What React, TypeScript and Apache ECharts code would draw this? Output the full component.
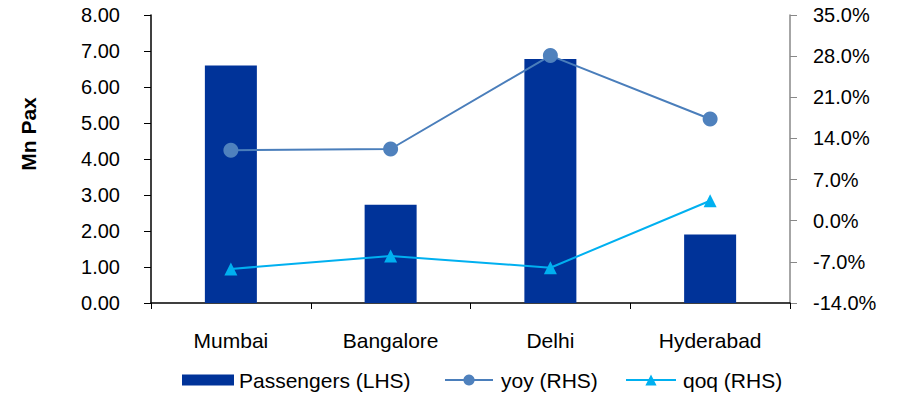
import React, { useEffect, useRef } from "react";
import * as echarts from "echarts";

const categories = ["Mumbai", "Bangalore", "Delhi", "Hyderabad"];
const passengers = [6.6, 2.73, 6.78, 1.9];
const yoy = [12.0, 12.2, 28.1, 17.3];
const qoq = [-8.2, -6.0, -8.0, 3.4];

const FONT = "'Liberation Sans', Arial, sans-serif";

export default function App() {
  const ref = useRef<HTMLDivElement>(null);
  useEffect(() => {
    if (!ref.current) return;
    const chart = echarts.init(ref.current, undefined, { renderer: "svg" });
    const legendText = { fontFamily: FONT, fontSize: 21, color: "#000", lineHeight: 22 };
    chart.setOption({
      animation: false,
      textStyle: { fontFamily: FONT },
      grid: { left: 151, right: 109, top: 15, bottom: 91, containLabel: false },
      xAxis: {
        type: "category",
        data: categories,
        axisLine: { lineStyle: { color: "#000", width: 1.5 } },
        axisTick: { show: true, length: 6, lineStyle: { color: "#000" } },
        axisLabel: { fontFamily: FONT, fontSize: 21, color: "#000", margin: 27 },
      },
      yAxis: [
        {
          type: "value",
          min: 0,
          max: 8,
          interval: 1,
          splitLine: { show: false },
          axisLine: { show: true, lineStyle: { color: "#000", width: 1.5 } },
          axisTick: { show: true, length: 7, lineStyle: { color: "#000" } },
          axisLabel: {
            fontFamily: FONT,
            fontSize: 20,
            color: "#000",
            margin: 31,
            formatter: (v: number) => v.toFixed(2),
          },
        },
        {
          type: "value",
          min: -14,
          max: 35,
          interval: 7,
          position: "right",
          splitLine: { show: false },
          axisLine: { show: true, lineStyle: { color: "#888888", width: 1.5 } },
          axisTick: { show: true, length: 7, lineStyle: { color: "#888888" } },
          axisLabel: {
            fontFamily: FONT,
            fontSize: 20,
            color: "#000",
            margin: 23,
            formatter: (v: number) => v.toFixed(1) + "%",
          },
        },
      ],
      legend: [
        {
          data: [{ name: "Passengers (LHS)", icon: "rect" }],
          left: 182,
          top: 369,
          padding: 0,
          itemWidth: 52,
          itemHeight: 11,
          textStyle: legendText,
        },
        {
          data: ["yoy (RHS)"],
          left: 444,
          top: 369,
          padding: 0,
          itemWidth: 48,
          itemHeight: 14,
          textStyle: { ...legendText, padding: [0, 0, 0, 3] },
        },
        {
          data: ["qoq (RHS)"],
          left: 625,
          top: 369,
          padding: 0,
          itemWidth: 50,
          itemHeight: 14,
          textStyle: { ...legendText, padding: [0, 0, 0, 2] },
        },
      ],
      graphic: [
        {
          type: "text",
          x: 28,
          y: 134,
          rotation: Math.PI / 2,
          style: {
            text: "Mn Pax",
            fontFamily: FONT,
            fontSize: 21,
            fontWeight: "bold",
            fill: "#000",
            textAlign: "center",
            textVerticalAlign: "middle",
          },
        },
      ],
      series: [
        {
          name: "Passengers (LHS)",
          type: "bar",
          data: passengers,
          yAxisIndex: 0,
          barWidth: 52,
          itemStyle: { color: "#003399" },
        },
        {
          name: "yoy (RHS)",
          type: "line",
          data: yoy,
          yAxisIndex: 1,
          symbol: "circle",
          symbolSize: 15,
          lineStyle: { color: "#4A7EBB", width: 2 },
          itemStyle: { color: "#4F81BD" },
        },
        {
          name: "qoq (RHS)",
          type: "line",
          data: qoq,
          yAxisIndex: 1,
          symbol: "triangle",
          symbolSize: 13,
          lineStyle: { color: "#00B0F0", width: 2 },
          itemStyle: { color: "#00B0F0" },
        },
      ],
    });
    return () => chart.dispose();
  }, []);
  return <div ref={ref} style={{ width: 899, height: 394, position: "absolute", left: 0, top: 0 }} />;
}
